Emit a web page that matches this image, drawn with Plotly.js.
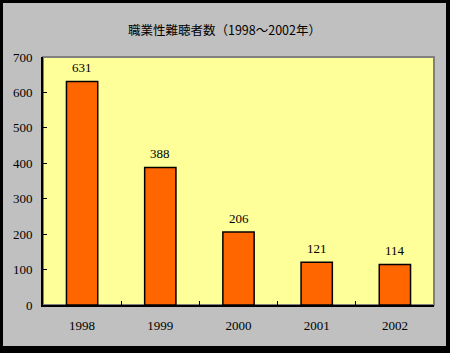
<!DOCTYPE html>
<html>
<head>
<meta charset="utf-8">
<script src="https://cdn.plot.ly/plotly-3.0.1.min.js"></script>
<style>
html,body{margin:0;padding:0;background:#000;width:450px;height:353px;overflow:hidden;}
#plot{position:absolute;left:3px;top:3px;width:443px;height:343px;}
</style>
</head>
<body>
<div id="plot"></div>
<script>
const years = ['1998','1999','2000','2001','2002'];
const counts = [631, 388, 206, 121, 114];
const titleText = '職業性難聴者数（1998～2002年）';

const serif = 'Liberation Serif, Times New Roman, serif';

const trace = {
  type: 'bar',
  x: years,
  y: counts,
  marker: {color: '#FF6600', line: {color: '#000', width: 1.5}},
  width: 0.4,
  hoverinfo: 'none'
};

// category index positions for the value labels
const labels = years.map((yr, i) => ({
  x: i, y: counts[i], xref: 'x', yref: 'y',
  text: String(counts[i]), showarrow: false,
  yanchor: 'middle', yshift: 14,
  font: {family: serif, size: 13, color: '#000'}
}));

const layout = {
  width: 443, height: 343,
  margin: {l: 40, r: 12, t: 54, b: 41},
  paper_bgcolor: '#C0C0C0',
  plot_bgcolor: '#FFFF99',
  showlegend: false,
  title: {
    text: titleText,
    font: {family: 'Noto Sans CJK JP, sans-serif', size: 12.5, color: '#000'},
    x: 0.5, xanchor: 'center', y: 1 - 28/343, yanchor: 'middle'
  },
  xaxis: {
    type: 'category',
    range: [-0.5, years.length - 0.5],
    showline: true, linecolor: '#000', linewidth: 2,
    ticks: 'inside', ticklen: 4, tickcolor: '#000', tickwidth: 1,
    tickson: 'boundaries',
    tickangle: 0,
    showgrid: false, zeroline: false,
    tickfont: {family: serif, size: 13, color: '#000'},
    ticklabelstandoff: 7,
    fixedrange: true
  },
  yaxis: {
    range: [0, 700], dtick: 100,
    showline: true, linecolor: '#000', linewidth: 2,
    ticks: 'inside', ticklen: 4, tickcolor: '#000', tickwidth: 1,
    showgrid: false, zeroline: false,
    tickfont: {family: serif, size: 13, color: '#000'},
    ticklabelstandoff: 6,
    fixedrange: true
  },
  annotations: labels,
  shapes: [{
    type: 'rect', xref: 'paper', yref: 'paper', x0: 0, x1: 1, y0: 0, y1: 1,
    line: {color: '#808080', width: 2}, layer: 'below'
  }]
};

Plotly.newPlot('plot', [trace], layout, {displayModeBar: false, staticPlot: true});
</script>
</body>
</html>
